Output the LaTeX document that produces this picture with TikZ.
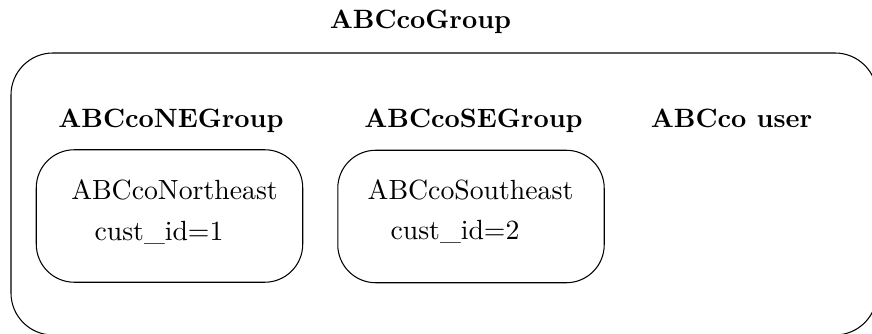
\documentclass[tikz,border=0pt]{standalone}
\usepackage{fontspec}
\setmainfont{lmroman10-regular.otf}[BoldFont=lmroman10-bold.otf]
\tikzset{
	grp/.style={font=\fontsize{15.1}{18}\selectfont\bfseries, anchor=base},
	acct/.style={font=\fontsize{15.8}{18}\selectfont, anchor=base},
	orgbox/.style={draw, line width=.6pt, rounded corners=.76cm, minimum width=5.33cm, minimum height=2.65cm, inner sep=0pt}
}
\begin{document}
\begin{tikzpicture}[x=.02cm, y=-.02cm]
	\useasboundingbox (0,0) rectangle (872,334);
	
	\draw[line width=.6pt, rounded corners=.84cm] (11,53) rectangle (877,335);
	
	\node[grp] (top) at (420.5,29){ABCcoGroup};
	
	\node[grp] (ne) at (171,128){ABCcoNEGroup};
	\node[grp] (se) at (473.5,127.5){ABCcoSEGroup};
	\node[grp] (user) at (731.5,127.5){ABCco user};
	
	\node[orgbox] (nebox) at (169.5,216){};
	\node[orgbox] (sebox) at (471,216.5){};
	
	\node[acct] (north) at (174.5,199.5){ABCcoNortheast};
	\node[acct] (id1) at (159,240){cust\_id=1};
	\node[acct] (south) at (470.5,199.5){ABCcoSoutheast};
	\node[acct] (id2) at (455,239){cust\_id=2};
\end{tikzpicture}
\end{document}
